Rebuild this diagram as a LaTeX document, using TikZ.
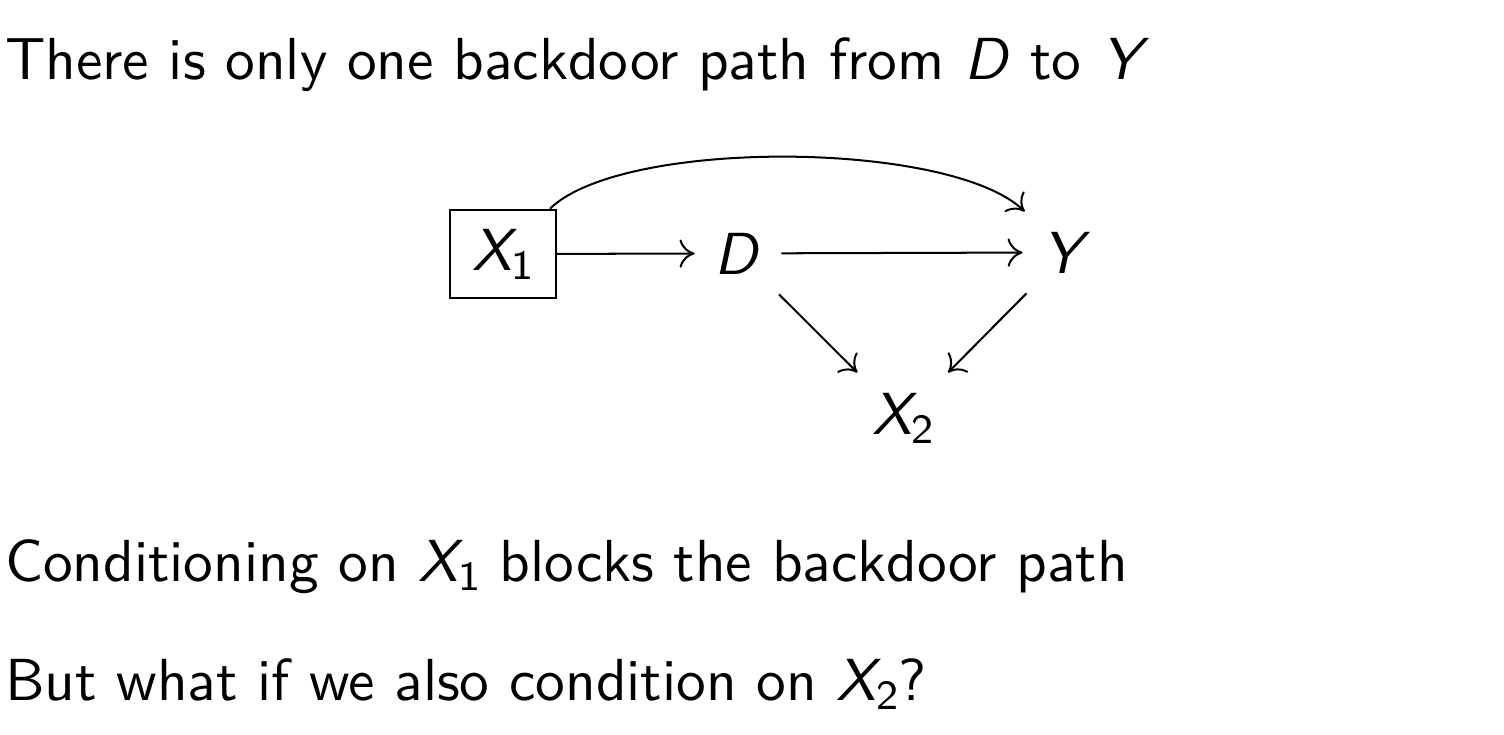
\documentclass[tikz,border=0pt]{standalone}
\usetikzlibrary{arrows.meta}
% sans italic letters with a lowered subscript, as on the slide
\newcommand{\mv}[1]{{\itshape #1\/}}
\newcommand{\mvsub}[2]{{\itshape #1}\raisebox{-1.6pt}{\fontsize{7.2}{8}\selectfont\upshape #2}}
\newcommand{\slidesize}{\fontsize{10.3}{12.4}\selectfont}
\tikzset{
  var/.style={inner sep=0.3333em, font=\slidesize\sffamily},
  cond/.style={var, draw=black, line width=0.35pt},
  edge/.style={-{Computer Modern Rightarrow[length=2.6pt,width=4.9pt]}, line width=0.35pt},
  txt/.style={anchor=base west, inner sep=0pt, font=\slidesize\sffamily}
}
\begin{document}
\begin{tikzpicture}[x=0.1736pt, y=0.1736pt]
\useasboundingbox (0,0) rectangle (1504,-734);
% slide text
\node[txt] (top) at (4,-79) {There is only one backdoor path from \mv{D} to \mv{Y}};
\node[txt] (cond1) at (4,-581) {Conditioning on \mvsub{X}{1} blocks the backdoor path};
\node[txt] (cond2) at (4,-700) {But what if we also condition on \mvsub{X}{2}?};
% the graph
\node[cond, minimum width=106*0.1736pt] (x1) at (503,-254) {\mvsub{X}{1}};
\node[var, anchor=base] (d) at (738,-274) {\mv{D}};
\node[var, anchor=base] (y) at (1067,-273) {\mv{Y}};
\node[var, anchor=base] (x2) at (903,-434) {\mvsub{X}{2}};
\draw[edge] (x1) -- (d);
\draw[edge] (d) -- (y);
\draw[edge] (d) -- (x2);
\draw[edge] (y) -- (x2);
\draw[edge] (x1) to[out=44, in=136, looseness=0.55] (y);
\end{tikzpicture}
\end{document}
